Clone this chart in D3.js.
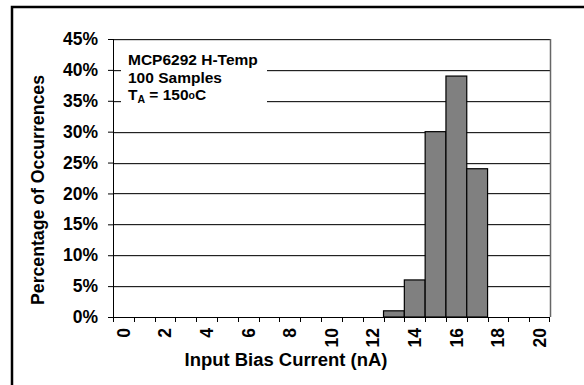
<!DOCTYPE html>
<html>
<head>
<meta charset="utf-8">
<script src="https://cdn.jsdelivr.net/npm/d3@7"></script>
<style>
  body { margin: 0; background: #fff; }
  svg { display: block; font-family: "Liberation Sans", Arial, sans-serif; font-weight: bold; }
</style>
</head>
<body>
<svg width="584" height="385"></svg>
<script>
// histogram bins (nA) and percentage of the 100 samples in each
var bins = [0, 1, 2, 3, 4, 5, 6, 7, 8, 9, 10, 11, 12, 13, 14, 15, 16, 17, 18, 19, 20];
var percent = [0, 0, 0, 0, 0, 0, 0, 0, 0, 0, 0, 0, 0, 1, 6, 30, 39, 24, 0, 0, 0];
var xLabels = [0, 2, 4, 6, 8, 10, 12, 14, 16, 18, 20];
var yTicks = [0, 5, 10, 15, 20, 25, 30, 35, 40, 45];

var svg = d3.select("svg"),
    margin = {top: 39, right: 34, bottom: 68, left: 113},
    width = +svg.attr("width") - margin.left - margin.right,
    height = +svg.attr("height") - margin.top - margin.bottom;

// outer frame (only left and top edges are inside the picture)
svg.append("rect")
    .attr("x", 12).attr("y", 7)
    .attr("width", 700).attr("height", 500)
    .attr("fill", "none")
    .attr("stroke", "#000")
    .attr("stroke-width", 2.5);

var g = svg.append("g").attr("transform", "translate(" + margin.left + "," + margin.top + ")");

var x = d3.scaleBand()
    .domain(bins)
    .range([0, width])
    .padding(0);

var y = d3.scaleLinear()
    .domain([0, 45])
    .range([height, 0]);

// grid lines
g.selectAll(".grid-shadow")
  .data(yTicks.slice(1))
  .enter().append("line")
    .attr("x1", 0).attr("x2", width)
    .attr("y1", function(d) { return Math.round(y(d)) + 1; })
    .attr("y2", function(d) { return Math.round(y(d)) + 1; })
    .attr("stroke", "#aaa");

g.selectAll(".grid")
  .data(yTicks.slice(1))
  .enter().append("line")
    .attr("x1", 0).attr("x2", width)
    .attr("y1", function(d) { return Math.round(y(d)) + 0.5; })
    .attr("y2", function(d) { return Math.round(y(d)) + 0.5; })
    .attr("stroke", "#222");

// right edge of plot area
g.append("line")
    .attr("x1", width + 0.5).attr("x2", width + 0.5)
    .attr("y1", y(45)).attr("y2", height)
    .attr("stroke", "#666")
    .attr("stroke-width", 1.5);

// note box
var note = g.append("g").attr("transform", "translate(8,4)");
note.append("rect")
    .attr("x", 0).attr("y", 0)
    .attr("width", 146).attr("height", 68)
    .attr("fill", "#fff");

var noteText = note.append("text")
    .style("font-size", "15.5px")
    .attr("fill", "#000");
noteText.append("tspan").attr("x", 7).attr("y", 22).text("MCP6292 H-Temp");
noteText.append("tspan").attr("x", 7).attr("y", 40).text("100 Samples");
var t3 = noteText.append("tspan").attr("x", 7).attr("y", 57);
t3.append("tspan").text("T");
t3.append("tspan").attr("dy", 3).style("font-size", "10.5px").text("A");
t3.append("tspan").attr("dy", -3).text(" = 150");
t3.append("tspan").attr("dy", -1).style("font-size", "10.5px").text("o");
t3.append("tspan").attr("dy", 1).text("C");

// bars
g.selectAll(".bar")
  .data(bins.filter(function(d, i) { return percent[i] > 0; }))
  .enter().append("rect")
    .attr("class", "bar")
    .attr("x", function(d) { return x(d); })
    .attr("y", function(d) { return y(percent[bins.indexOf(d)]); })
    .attr("width", x.bandwidth())
    .attr("height", function(d) { return height - y(percent[bins.indexOf(d)]); })
    .attr("fill", "#808080")
    .attr("stroke", "#000")
    .attr("stroke-width", 1.2);

// y axis
var yAxis = g.append("g")
    .call(d3.axisLeft(y).tickValues(yTicks).tickSize(5).tickPadding(10)
      .tickFormat(function(d) { return d + "%"; }));
yAxis.select(".domain").attr("stroke", "#000").attr("d", "M0.5," + y(45) + "V" + height);
yAxis.selectAll("text")
    .style("font-size", "17.5px")
    .style("font-family", "'Liberation Sans', Arial, sans-serif")
    .style("font-weight", "bold")
    .attr("fill", "#000");

// x axis: ticks at bin edges, labels on every second bin
var xAxis = g.append("g").attr("transform", "translate(0," + height + ")");
xAxis.append("line")
    .attr("x1", 0).attr("x2", width)
    .attr("y1", 0.5).attr("y2", 0.5)
    .attr("stroke", "#000");
xAxis.selectAll(".tick")
  .data(bins.concat([21]))
  .enter().append("line")
    .attr("x1", function(d) { return d < 21 ? Math.round(x(d)) + 0.5 : width - 0.5; })
    .attr("x2", function(d) { return d < 21 ? Math.round(x(d)) + 0.5 : width - 0.5; })
    .attr("y1", 0).attr("y2", 5)
    .attr("stroke", "#000");
xAxis.selectAll(".xlabel")
  .data(xLabels)
  .enter().append("text")
    .attr("transform", function(d) { return "translate(" + (x(d) + x.bandwidth() / 2) + ",11) rotate(-90)"; })
    .attr("text-anchor", "end")
    .attr("dy", "0.36em")
    .style("font-size", "17.5px")
    .attr("fill", "#000")
    .text(function(d) { return d; });

// axis titles
svg.append("text")
    .attr("x", 286).attr("y", 366)
    .attr("text-anchor", "middle")
    .attr("textLength", 203)
    .attr("lengthAdjust", "spacingAndGlyphs")
    .style("font-size", "17.5px")
    .text("Input Bias Current (nA)");

svg.append("text")
    .attr("transform", "translate(44,190) rotate(-90)")
    .attr("text-anchor", "middle")
    .attr("textLength", 230)
    .attr("lengthAdjust", "spacingAndGlyphs")
    .style("font-size", "17.5px")
    .text("Percentage of Occurrences");
</script>
</body>
</html>
